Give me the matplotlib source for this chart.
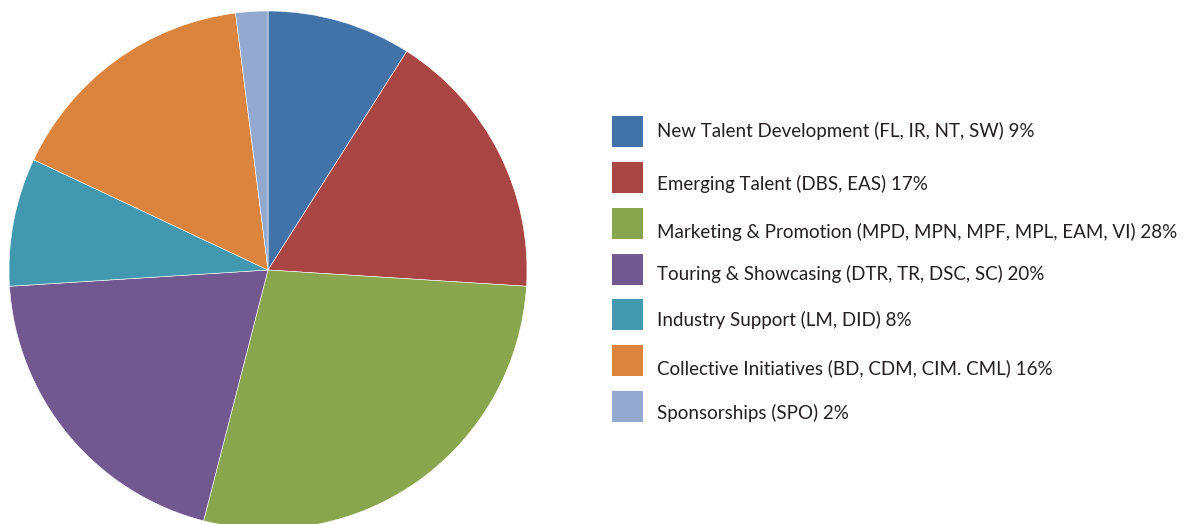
import matplotlib.pyplot as plt
from matplotlib.patches import Rectangle

# budget split by program group (percent)
labels = [
    'New Talent Development (FL, IR, NT, SW) 9%',
    'Emerging Talent (DBS, EAS) 17%',
    'Marketing & Promotion (MPD, MPN, MPF, MPL, EAM, VI) 28%',
    'Touring & Showcasing (DTR, TR, DSC, SC) 20%',
    'Industry Support (LM, DID) 8%',
    'Collective Initiatives (BD, CDM, CIM. CML) 16%',
    'Sponsorships (SPO) 2%',
]
shares = [9, 17, 28, 20, 8, 16, 2]
colors = ['#4172a8', '#a94643', '#89a54e', '#71588f', '#4198af', '#db843d', '#93a9cf']

W, H = 1188, 524
fig = plt.figure(figsize=(W / 100, H / 100), dpi=100)
fig.patch.set_facecolor('white')

# pie: centre ~(268, 270) px from top-left, radius ~259 px
cx, cy, r = 268, 270, 259
ax = fig.add_axes([(cx - r) / W, (H - cy - r) / H, 2 * r / W, 2 * r / H])
ax.pie(shares, colors=colors, startangle=90, counterclock=False, radius=1,
       wedgeprops=dict(linewidth=0.4, edgecolor='white'))
ax.set_xlim(-1, 1)
ax.set_ylim(-1, 1)
ax.set_aspect('equal')
ax.axis('off')

# legend drawn in pixel coordinates
lax = fig.add_axes([0, 0, 1, 1])
lax.set_xlim(0, W)
lax.set_ylim(H, 0)
lax.axis('off')
box_top = [116, 162, 208, 254, 299, 345, 391]
text_y = [131, 184, 232, 274, 320, 368, 413]
for lab, c, by, ty in zip(labels, colors, box_top, text_y):
    lax.add_patch(Rectangle((612, by), 31, 31, facecolor=c, edgecolor='none'))
    lax.text(657, ty, lab, fontsize=13.5, family='Lato', color='#231f20',
             va='center', ha='left')

fig.savefig('out.png', dpi=100)
